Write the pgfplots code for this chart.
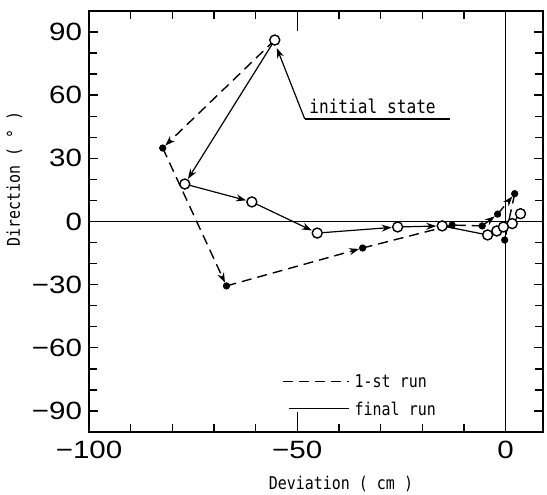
\documentclass[border=0pt]{standalone}
\usepackage{pgfplots}
\pgfplotsset{compat=1.18}
\usepackage{fontspec}
\setmainfont{Liberation Sans}
\newfontfamily\tickf[FakeStretch=1.18]{Liberation Sans}
\newfontfamily\monof[FakeStretch=0.85]{DejaVu Sans Mono}
\usetikzlibrary{arrows.meta}

\pgfplotstableread{
x y
-55.4 86.2
-77.0 17.8
-60.9 9.3
-45.2 -5.5
-25.9 -2.6
-15.2 -2.1
-4.3 -6.4
-2.1 -4.5
-0.5 -2.6
1.6 -1.0
3.6 3.7
}\finalrun

\pgfplotstableread{
x y
-82.3 34.9
-67.0 -30.6
-34.3 -12.6
-12.8 -1.7
-5.6 -2.1
-1.9 3.5
2.2 13.2
-0.2 -8.8
}\firstrun

\begin{document}
\begin{tikzpicture}
\begin{axis}[
  name=ax,
  scale only axis, width=227pt, height=210.5pt,
  xmin=-100, xmax=9, ymin=-100, ymax=100,
  axis line style={line width=0.8pt},
  xtick={-100,-50,0}, xticklabels={−100,−50,0},
  ytick={-90,-60,...,90}, yticklabels={−90,−60,−30,0,30,60,90},
  minor x tick num=4, minor y tick num=2,
  tick align=inside, major tick length=4.5pt, minor tick length=4pt,
  tick style={line width=0.7pt, black},
  extra x ticks={-50,0}, extra x tick labels={},
  extra x tick style={major tick length=10pt},
  tick label style={font=\tickf\fontsize{12.5}{14}\selectfont},
  xticklabel style={yshift=-1pt},
  xlabel={\monof\fontsize{8.8}{10}\selectfont Deviation ( cm )},
  ylabel={\monof\fontsize{8.8}{10}\selectfont Direction ( ° )},
  xlabel style={at={(ticklabel cs:0.555)}, yshift=-2pt},
  ylabel style={at={(ticklabel cs:0.60)}, yshift=-2pt},
  clip=false,
]
% reference lines
\addplot[black, line width=0.6pt, forget plot] coordinates {(0,-100) (0,100)};
\addplot[black, line width=0.6pt, forget plot] coordinates {(-100,0) (9,0)};

% final run (solid) arrows
\pgfplotsset{ar/.style={black, line width=0.6pt, -{Stealth[length=5pt,width=3.5pt]}, shorten >=3pt, forget plot}}
\addplot[ar] coordinates {(-55.4,86.2) (-77.0,17.8)};
\addplot[ar] coordinates {(-77.0,17.8) (-60.9,9.3)};
\addplot[ar] coordinates {(-60.9,9.3) (-45.2,-5.5)};
\addplot[ar] coordinates {(-45.2,-5.5) (-25.9,-2.6)};
\addplot[ar] coordinates {(-25.9,-2.6) (-15.2,-2.1)};
\addplot[black, line width=0.6pt, forget plot] coordinates {(-15.2,-2.1) (-4.3,-6.4) (-2.1,-4.5) (-0.5,-2.6) (1.6,-1.0) (3.6,3.7)};

% first run (dashed) arrows
\pgfplotsset{ard/.style={black, line width=0.7pt, dash pattern=on 5pt off 3pt, -{Stealth[length=5pt,width=3.5pt]}, shorten >=1.8pt, forget plot}}
\addplot[ard] coordinates {(-55.4,86.2) (-82.3,34.9)};
\addplot[ard] coordinates {(-82.3,34.9) (-67.0,-30.6)};
\addplot[ard] coordinates {(-67.0,-30.6) (-34.3,-12.6)};
\addplot[black, line width=0.7pt, dash pattern=on 5pt off 3pt, forget plot] coordinates {(-34.3,-12.6) (-12.8,-1.7) (-5.6,-2.1)};
\addplot[ard] coordinates {(-5.6,-2.1) (-1.9,3.5)};
\addplot[ard] coordinates {(-1.9,3.5) (2.2,13.2)};
\addplot[black, line width=0.7pt, dash pattern=on 5pt off 3pt, forget plot] coordinates {(2.2,13.2) (-0.2,-8.8)};

% markers
\addplot[only marks, mark=*, mark size=1.6pt, black, forget plot] table {\firstrun};
\addplot[only marks, mark=*, mark size=2.5pt, mark options={draw=black, fill=white, line width=0.7pt}, forget plot] table {\finalrun};

% annotation
\draw[black, line width=0.6pt, -{Stealth[length=5pt,width=3.5pt]}] (axis cs:-48.2,48.7) -- (axis cs:-54.9,82.4);
\draw[black, line width=0.6pt] (axis cs:-48.2,48.7) -- (axis cs:-13.4,48.7);
\node[font=\monof\fontsize{9.5}{10}\selectfont, anchor=base west, inner sep=0pt] at (axis cs:-47.2,51.5) {initial state};

% legend
\draw[black, line width=0.7pt, dash pattern=on 5pt off 3pt] (axis cs:-53.5,-76) -- (axis cs:-37.5,-76);
\draw[black, line width=0.6pt] (axis cs:-52,-89) -- (axis cs:-37.5,-89);
\node[font=\monof\fontsize{8.8}{10}\selectfont, anchor=west, inner sep=0pt] at (axis cs:-36.3,-76) {1-st run};
\node[font=\monof\fontsize{8.8}{10}\selectfont, anchor=west, inner sep=0pt] at (axis cs:-36.3,-89) {final run};
\end{axis}
\pgfresetboundingbox
\path ([xshift=-44.5pt,yshift=-31.5pt]ax.south west) rectangle ([xshift=2pt,yshift=5.5pt]ax.north east);
\end{tikzpicture}
\end{document}
